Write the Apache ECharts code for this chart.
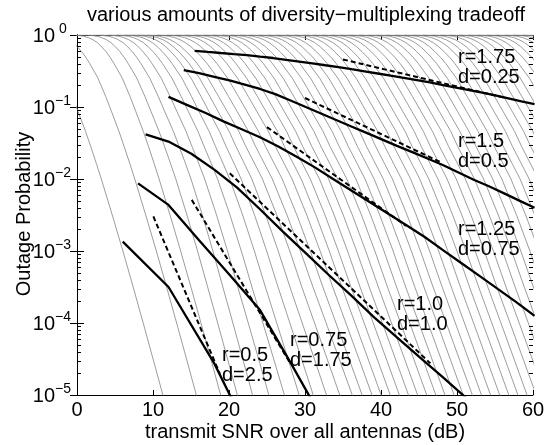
<!DOCTYPE html>
<html><head><meta charset="utf-8">
<script src="https://cdn.jsdelivr.net/npm/echarts@6/dist/echarts.min.js"></script>
<style>html,body{margin:0;padding:0;background:#fff}#c{width:550px;height:445px}</style>
</head><body><div id="c"></div>
<script>
// ---------- data ----------
const xTicks = [0, 10, 20, 30, 40, 50, 60];
const yTickExponents = [-5, -4, -3, -2, -1, 0];

// gray outage curves (one per rate): common probability levels,
// two shape profiles (dB relative to the 1e-2 crossing) and per-curve offsets
const grayLevelsP = [0.99954, 0.99312, 0.98288, 0.9594, 0.92045, 0.86099, 0.78343, 0.68865, 0.58749, 0.49204, 0.40179, 0.31623, 0.25119, 0.1875, 0.13996, 0.0859, 0.04571, 0.02818, 0.01603, 0.01, 0.0031623, 0.001, 3.1623e-4, 1e-4, 3.1623e-5, 1e-5, 3.1623e-6, 1e-6];
const shapeLowDb  = [-12.30, -11.07, -10.51, -9.90, -9.31, -8.71, -8.12, -7.56, -6.98, -6.45, -5.93, -5.37, -4.84, -4.33, -3.82, -3.05, -2.07, -1.39, -0.62, 0, 1.44, 2.84, 4.19, 5.51, 6.81, 8.10, 9.38, 10.66];
const shapeHighDb = [-17.5, -15.95, -15.26, -14.5, -13.76, -13.0, -12.26, -11.5, -10.76, -10.0, -9.25, -8.5, -7.75, -7.0, -6.25, -5.0, -3.5, -2.6, -1.25, 0, 2.5, 5.0, 7.5, 10.0, 12.5, 15.0, 17.5, 20.0];
// how far each level uses the lower-tail weight instead of the upper one
const levelTailBlend = [0, 0, 0, 0, 0, 0, 0, 0, 0, 0, 0, 0, 0, 0, 0, 0, 0.15, 0.3, 0.45, 0.6, 0.75, 0.9, 1, 1, 1, 1, 1, 1];
const grayOffsets = [3.2, 7.6, 10.8, 13.0, 15.0, 16.8, 18.5, 20.1, 21.6, 23.0, 24.4, 25.7, 27.0, 28.3,
  29.5, 30.7, 31.9, 33.1, 34.3, 35.5, 36.7, 37.9, 39.1, 40.3, 41.5, 42.7, 43.9, 45.1, 46.3, 47.5, 48.7, 49.9,
  51.1, 52.3, 53.5, 54.7, 55.9, 57.1, 58.3, 59.5, 60.7, 61.9, 63.1, 64.3, 65.5, 66.7, 67.9, 69.1, 70.3, 71.5, 72.7, 73.9, 75.1];
const grayWTop = [0, 0, 0, 0.1, 0.2, 0.3, 0.4, 0.5, 0.6, 0.7, 0.8, 0.8, 0.8, 0.8, 0.8, 0.8, 0.8, 0.8, 0.8, 0.8,
  0.8, 0.8, 0.8, 0.8, 0.8, 0.8, 0.8, 0.8, 0.8, 0.8, 0.8, 0.8, 0.8, 0.8, 0.8, 0.8, 0.8, 0.8, 0.8, 0.8, 0.8, 0.8,
  0.8, 0.8, 0.8, 0.8, 0.8, 0.8, 0.8, 0.8, 0.8, 0.8, 0.8];
const grayWBot = [0, 0, 0, 0, 0, 0.05, 0.1, 0.15, 0.2, 0.25, 0.3, 0.35, 0.35, 0.35, 0.35, 0.35, 0.35, 0.35, 0.35, 0.35,
  0.35, 0.35, 0.35, 0.35, 0.35, 0.35, 0.35, 0.35, 0.35, 0.35, 0.35, 0.35, 0.35, 0.35, 0.35, 0.35, 0.35, 0.35, 0.35, 0.35, 0.35, 0.35,
  0.35, 0.35, 0.35, 0.35, 0.35, 0.35, 0.35, 0.35, 0.35, 0.35, 0.35];

// thick tradeoff curves [SNR dB, outage probability]
const tradeR050 = [[6.02, 1.35e-3], [12.04, 3.16e-4], [18.06, 2.75e-5], [24.08, 1.41e-6]];
const tradeR075 = [[8.03, 8.7e-3], [12.04, 4.37e-3], [16.06, 1.41e-3], [20.07, 4.68e-4], [24.08, 1.51e-4], [28.1, 2.82e-5], [32.1, 5.0e-6]];
const tradeR100 = [[9.03, 0.0417], [12.04, 0.0331], [15.05, 0.0224], [18.06, 0.0135], [21.07, 7.59e-3], [24.08, 3.80e-3], [27.09, 1.86e-3], [30.1, 9.33e-4], [33.1, 4.68e-4], [36.1, 2.40e-4], [39.1, 1.20e-4], [42.1, 6.31e-5], [45.15, 3.31e-5], [48.2, 1.74e-5], [51.2, 9.12e-6]];
const tradeR125 = [[12.04, 0.138], [14.45, 0.107], [16.86, 0.0832], [19.27, 0.0631], [21.67, 0.049], [24.08, 0.038], [26.49, 0.0282], [28.9, 0.0204], [31.3, 0.0145], [33.7, 0.01], [36.1, 6.92e-3], [38.5, 4.79e-3], [40.9, 3.31e-3], [43.3, 2.29e-3], [45.8, 1.55e-3], [48.2, 1.02e-3], [50.6, 6.76e-4], [53.0, 4.47e-4], [55.4, 2.95e-4], [57.8, 1.95e-4], [60.2, 1.26e-4]];
const tradeR150 = [[14.05, 0.324], [16.06, 0.295], [18.06, 0.263], [20.07, 0.234], [22.08, 0.204], [24.08, 0.178], [26.09, 0.151], [28.1, 0.123], [30.1, 0.1], [32.1, 0.0813], [34.1, 0.0661], [36.1, 0.0537], [38.1, 0.0437], [40.1, 0.0355], [42.1, 0.0288], [44.2, 0.0234], [46.2, 0.0191], [48.2, 0.0155], [50.2, 0.0123], [52.2, 9.77e-3], [54.2, 7.94e-3], [56.2, 6.31e-3], [58.2, 5.01e-3], [60.2, 3.98e-3]];
const tradeR175 = [[15.48, 0.603], [17.2, 0.582], [18.92, 0.562], [20.64, 0.543], [22.36, 0.525], [24.08, 0.501], [25.8, 0.479], [27.52, 0.452], [29.24, 0.427], [30.96, 0.403], [32.68, 0.38], [34.4, 0.359], [36.12, 0.335], [37.84, 0.313], [39.56, 0.292], [41.28, 0.272], [43.0, 0.254], [44.72, 0.237], [46.44, 0.219], [48.16, 0.202], [49.88, 0.186], [51.6, 0.172], [53.32, 0.158], [55.04, 0.145], [56.76, 0.132], [58.48, 0.12], [60.2, 0.11]];

// dashed asymptotic slopes [start, end]
const slopeR050 = [[10.05, 3.02e-3], [18.8, 1.96e-5]];
const slopeR075 = [[15.1, 5.13e-3], [28.0, 2.83e-5]];
const slopeR100 = [[20.1, 0.012], [46.5, 2.75e-5]];
const slopeR125 = [[25.0, 0.0525], [43.3, 2.23e-3]];
const slopeR150 = [[30.0, 0.1334], [48.0, 0.0168]];
const slopeR175 = [[35.0, 0.457], [56.5, 0.1326]];

const annoTexts = ['r=1.75\nd=0.25', 'r=1.5\nd=0.5', 'r=1.25\nd=0.75', 'r=1.0\nd=1.0', 'r=0.75\nd=1.75', 'r=0.5\nd=2.5'];
const titleText = 'various amounts of diversity\u2212multiplexing tradeoff';
const xName = 'transmit SNR over all antennas (dB)';
const yName = 'Outage Probability';
const minorMantissas = [2, 3, 4, 5, 6, 7, 8, 9];

// ---------- layout ----------
const annoPos = [[458, 47], [458, 131], [458, 219], [397, 294], [290, 330], [222, 345]];
const FONT = '"Liberation Sans", Arial, Helvetica, sans-serif';

function grayCurve(k) {
  const off = grayOffsets[k], wt = grayWTop[k], wb = grayWBot[k];
  return grayLevelsP.map((p, i) => {
    const w = wt + (wb - wt) * levelTailBlend[i];
    return [off + (1 - w) * shapeLowDb[i] + w * shapeHighDb[i], p];
  });
}

const series = [];
for (let k = 0; k < grayOffsets.length; k++) {
  series.push({
    type: 'line', data: grayCurve(k), symbol: 'none', silent: true, z: 2,
    lineStyle: { color: '#8a8a8a', width: 0.85 }
  });
}
[tradeR050, tradeR075, tradeR100, tradeR125, tradeR150, tradeR175].forEach(d => {
  series.push({ type: 'line', data: d, symbol: 'none', silent: true, z: 4,
    lineStyle: { color: '#000', width: 2.3 } });
});
[slopeR050, slopeR075, slopeR100, slopeR125, slopeR150, slopeR175].forEach(d => {
  series.push({ type: 'line', data: d, symbol: 'none', silent: true, z: 5,
    lineStyle: { color: '#000', width: 2, type: [5, 3] } });
});
const minorData = [];
yTickExponents.slice(0, -1).forEach(e => minorMantissas.forEach(m => minorData.push([0, m * Math.pow(10, e)])));
series.push({
  type: 'custom', data: minorData, silent: true, z: 6, clip: false,
  renderItem: (params, api) => {
    const cs = params.coordSys;
    const y = Math.round(api.coord([0, api.value(1)])[1]) + 0.5;
    return { type: 'group', children: [
      { type: 'line', shape: { x1: cs.x, y1: y, x2: cs.x + 4, y2: y }, style: { stroke: '#000', lineWidth: 1 } },
      { type: 'line', shape: { x1: cs.x + cs.width - 4, y1: y, x2: cs.x + cs.width, y2: y }, style: { stroke: '#000', lineWidth: 1 } }
    ] };
  }
});

const supText = e => (e < 0 ? '\u2212' + (-e) : String(e));
const graphic = [
  { type: 'text', x: 306, y: 15, style: { text: titleText, font: '20px ' + FONT, fill: '#000', align: 'center', verticalAlign: 'middle' } },
  { type: 'text', x: 305, y: 432, style: { text: xName, font: '20px ' + FONT, fill: '#000', align: 'center', verticalAlign: 'middle' } },
  { type: 'text', x: 24, y: 214, rotation: Math.PI / 2, style: { text: yName, font: '20px ' + FONT, fill: '#000', align: 'center', verticalAlign: 'middle' } }
];
annoTexts.forEach((t, i) => graphic.push({
  type: 'text', x: annoPos[i][0], y: annoPos[i][1], z: 10,
  style: { text: t, font: '20px ' + FONT, fill: '#000', lineHeight: 20.5, align: 'left', verticalAlign: 'top' }
}));

const axisCommon = { axisLine: { show: true, lineStyle: { color: '#000', width: 1 } }, splitLine: { show: false } };
const option = {
  animation: false,
  backgroundColor: '#fff',
  grid: { left: 77, right: 17, top: 35, bottom: 50, containLabel: false, outerBoundsMode: 'none' },
  xAxis: [
    Object.assign({ type: 'value', min: xTicks[0], max: xTicks[xTicks.length - 1], interval: 10, position: 'bottom',
      axisTick: { show: true, inside: true, length: 5, lineStyle: { color: '#000' } },
      axisLabel: { show: true, margin: 5, color: '#000', fontSize: 20, fontFamily: FONT, formatter: v => xTicks.includes(v) ? String(v) : '' } }, axisCommon),
    Object.assign({ type: 'value', min: 0, max: 60, interval: 10, position: 'top',
      axisTick: { show: true, inside: true, length: 5, lineStyle: { color: '#000' } },
      axisLabel: { show: false } }, axisCommon)
  ],
  yAxis: [
    Object.assign({ type: 'log', logBase: 10, min: 1e-5, max: 1, position: 'left',
      axisTick: { show: true, inside: true, length: 7, lineStyle: { color: '#000' } },
      axisLabel: { show: true, margin: 6, color: '#000', fontFamily: FONT,
        formatter: v => { const e = Math.round(Math.log10(v)); return yTickExponents.includes(e) ? '{b|10}{s|' + supText(e) + '}' : ''; },
        rich: {
          b: { fontSize: 20, fontFamily: FONT, color: '#000', lineHeight: 20, padding: [8, 0, 0, 0] },
          s: { fontSize: 14, fontFamily: FONT, color: '#000', lineHeight: 14, verticalAlign: 'top', width: 16, align: 'left' }
        },
        padding: [0, 0, 6, 0]
      } }, axisCommon),
    Object.assign({ type: 'log', logBase: 10, min: 1e-5, max: 1, position: 'right',
      axisTick: { show: true, inside: true, length: 7, lineStyle: { color: '#000' } },
      axisLabel: { show: false } }, axisCommon)
  ],
  series: series,
  graphic: graphic
};
const chart = echarts.init(document.getElementById('c'));
chart.setOption(option);
</script>
</body></html>
